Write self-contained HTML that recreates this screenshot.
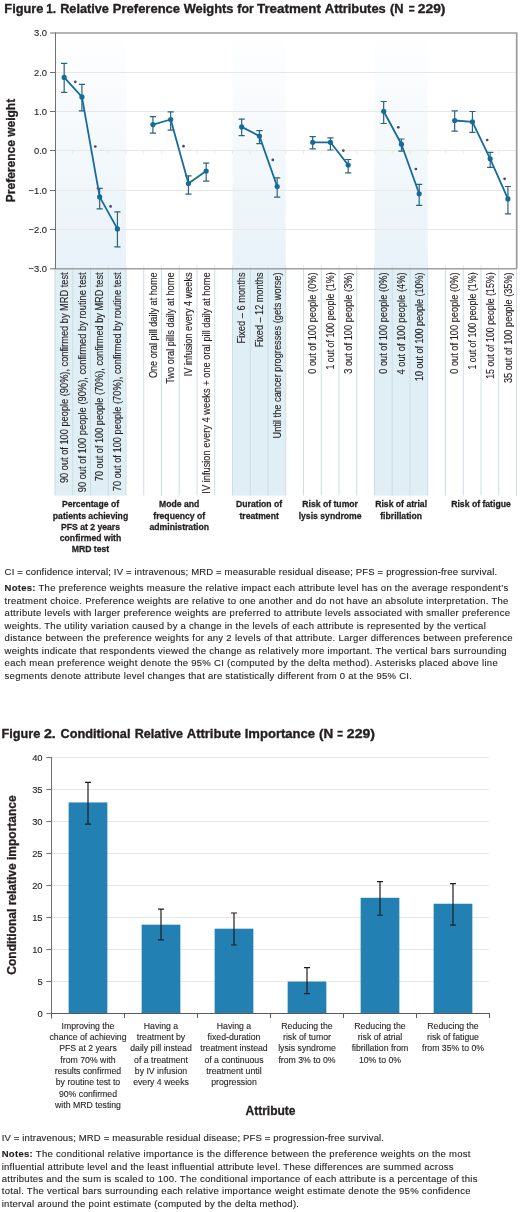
<!DOCTYPE html>
<html><head><meta charset="utf-8"><title>Figures</title>
<style>
html,body{margin:0;padding:0;background:#fff;}
body{width:520px;height:1212px;overflow:hidden;}
svg{display:block;font-family:"Liberation Sans", sans-serif;will-change:transform;}
svg text{fill:#231f20;stroke:#231f20;stroke-width:0.12px;} svg text[font-weight=bold]{stroke-width:0.3px;} svg text.ttl{stroke-width:0.35px;}
</style></head><body>
<svg width="520" height="1212" viewBox="0 0 520 1212">
<rect width="520" height="1212" fill="#fff"/>
<text x="4.37" y="12.80" font-size="12.5" textLength="38.98" lengthAdjust="spacingAndGlyphs" font-weight="bold" class="ttl">Figure</text>
<text x="46.29" y="12.80" font-size="12.5" textLength="9.82" lengthAdjust="spacingAndGlyphs" font-weight="bold" class="ttl">1.</text>
<text x="60.17" y="12.80" font-size="12.5" textLength="48.78" lengthAdjust="spacingAndGlyphs" font-weight="bold" class="ttl">Relative</text>
<text x="112.86" y="12.80" font-size="12.5" textLength="67.20" lengthAdjust="spacingAndGlyphs" font-weight="bold" class="ttl">Preference</text>
<text x="183.70" y="12.80" font-size="12.5" textLength="49.72" lengthAdjust="spacingAndGlyphs" font-weight="bold" class="ttl">Weights</text>
<text x="237.31" y="12.80" font-size="12.5" textLength="16.55" lengthAdjust="spacingAndGlyphs" font-weight="bold" class="ttl">for</text>
<text x="256.97" y="12.80" font-size="12.5" textLength="63.93" lengthAdjust="spacingAndGlyphs" font-weight="bold" class="ttl">Treatment</text>
<text x="324.88" y="12.80" font-size="12.5" textLength="60.87" lengthAdjust="spacingAndGlyphs" font-weight="bold" class="ttl">Attributes</text>
<text x="389.96" y="12.80" font-size="12.5" textLength="13.58" lengthAdjust="spacingAndGlyphs" font-weight="bold" class="ttl">(N</text>
<text x="408.80" y="12.80" font-size="12.5" textLength="5.90" lengthAdjust="spacingAndGlyphs" font-weight="bold" class="ttl">=</text>
<text x="417.82" y="12.80" font-size="12.5" textLength="27.63" lengthAdjust="spacingAndGlyphs" font-weight="bold" class="ttl">229)</text>
<defs><linearGradient id="band" x1="0" y1="0" x2="0" y2="1"><stop offset="0" stop-color="#ffffff"/><stop offset="0.12" stop-color="#fcfdfe"/><stop offset="1" stop-color="#e8f2f8"/></linearGradient></defs>
<rect x="55.00" y="32.90" width="71.00" height="236.10" fill="url(#band)"/>
<rect x="232.50" y="32.90" width="53.25" height="236.10" fill="url(#band)"/>
<rect x="374.50" y="32.90" width="53.25" height="236.10" fill="url(#band)"/>
<line x1="55.0" y1="72.50" x2="516.5" y2="72.50" stroke="#e8e8e8" stroke-width="1"/>
<line x1="55.0" y1="111.50" x2="516.5" y2="111.50" stroke="#e8e8e8" stroke-width="1"/>
<line x1="55.0" y1="150.50" x2="516.5" y2="150.50" stroke="#e8e8e8" stroke-width="1"/>
<line x1="55.0" y1="190.50" x2="516.5" y2="190.50" stroke="#e8e8e8" stroke-width="1"/>
<line x1="55.0" y1="229.50" x2="516.5" y2="229.50" stroke="#e8e8e8" stroke-width="1"/>
<path d="M55.00 150.95v3 M55.00 265.00v4 M72.75 150.95v3 M72.75 265.00v4 M90.50 150.95v3 M90.50 265.00v4 M108.25 150.95v3 M108.25 265.00v4 M126.00 150.95v3 M126.00 265.00v4 M143.75 150.95v3 M143.75 265.00v4 M161.50 150.95v3 M161.50 265.00v4 M179.25 150.95v3 M179.25 265.00v4 M197.00 150.95v3 M197.00 265.00v4 M214.75 150.95v3 M214.75 265.00v4 M232.50 150.95v3 M232.50 265.00v4 M250.25 150.95v3 M250.25 265.00v4 M268.00 150.95v3 M268.00 265.00v4 M285.75 150.95v3 M285.75 265.00v4 M303.50 150.95v3 M303.50 265.00v4 M321.25 150.95v3 M321.25 265.00v4 M339.00 150.95v3 M339.00 265.00v4 M356.75 150.95v3 M356.75 265.00v4 M374.50 150.95v3 M374.50 265.00v4 M392.25 150.95v3 M392.25 265.00v4 M410.00 150.95v3 M410.00 265.00v4 M427.75 150.95v3 M427.75 265.00v4 M445.50 150.95v3 M445.50 265.00v4 M463.25 150.95v3 M463.25 265.00v4 M481.00 150.95v3 M481.00 265.00v4 M498.75 150.95v3 M498.75 265.00v4 M516.50 150.95v3 M516.50 265.00v4" stroke="#e4e4e4" stroke-width="0.8" fill="none"/>
<rect x="55.00" y="269.00" width="17.75" height="226.50" fill="#e0eef5"/>
<rect x="72.75" y="269.00" width="17.75" height="226.50" fill="#e0eef5"/>
<rect x="90.50" y="269.00" width="17.75" height="226.50" fill="#e0eef5"/>
<rect x="108.25" y="269.00" width="17.75" height="226.50" fill="#e0eef5"/>
<line x1="55.00" y1="269.00" x2="55.00" y2="495.50" stroke="#cddde6" stroke-width="1"/>
<line x1="72.75" y1="269.00" x2="72.75" y2="495.50" stroke="#cddde6" stroke-width="1"/>
<line x1="90.50" y1="269.00" x2="90.50" y2="495.50" stroke="#cddde6" stroke-width="1"/>
<line x1="108.25" y1="269.00" x2="108.25" y2="495.50" stroke="#cddde6" stroke-width="1"/>
<line x1="126.00" y1="269.00" x2="126.00" y2="495.50" stroke="#cddde6" stroke-width="1"/>
<line x1="143.75" y1="269.00" x2="143.75" y2="495.50" stroke="#cddde6" stroke-width="1"/>
<line x1="161.50" y1="269.00" x2="161.50" y2="495.50" stroke="#cddde6" stroke-width="1"/>
<line x1="179.25" y1="269.00" x2="179.25" y2="495.50" stroke="#cddde6" stroke-width="1"/>
<line x1="197.00" y1="269.00" x2="197.00" y2="495.50" stroke="#cddde6" stroke-width="1"/>
<line x1="214.75" y1="269.00" x2="214.75" y2="495.50" stroke="#cddde6" stroke-width="1"/>
<rect x="232.50" y="269.00" width="17.75" height="226.50" fill="#e0eef5"/>
<rect x="250.25" y="269.00" width="17.75" height="226.50" fill="#e0eef5"/>
<rect x="268.00" y="269.00" width="17.75" height="226.50" fill="#e0eef5"/>
<line x1="232.50" y1="269.00" x2="232.50" y2="495.50" stroke="#cddde6" stroke-width="1"/>
<line x1="250.25" y1="269.00" x2="250.25" y2="495.50" stroke="#cddde6" stroke-width="1"/>
<line x1="268.00" y1="269.00" x2="268.00" y2="495.50" stroke="#cddde6" stroke-width="1"/>
<line x1="285.75" y1="269.00" x2="285.75" y2="495.50" stroke="#cddde6" stroke-width="1"/>
<line x1="303.50" y1="269.00" x2="303.50" y2="495.50" stroke="#cddde6" stroke-width="1"/>
<line x1="321.25" y1="269.00" x2="321.25" y2="495.50" stroke="#cddde6" stroke-width="1"/>
<line x1="339.00" y1="269.00" x2="339.00" y2="495.50" stroke="#cddde6" stroke-width="1"/>
<line x1="356.75" y1="269.00" x2="356.75" y2="495.50" stroke="#cddde6" stroke-width="1"/>
<rect x="374.50" y="269.00" width="17.75" height="226.50" fill="#e0eef5"/>
<rect x="392.25" y="269.00" width="17.75" height="226.50" fill="#e0eef5"/>
<rect x="410.00" y="269.00" width="17.75" height="226.50" fill="#e0eef5"/>
<line x1="374.50" y1="269.00" x2="374.50" y2="495.50" stroke="#cddde6" stroke-width="1"/>
<line x1="392.25" y1="269.00" x2="392.25" y2="495.50" stroke="#cddde6" stroke-width="1"/>
<line x1="410.00" y1="269.00" x2="410.00" y2="495.50" stroke="#cddde6" stroke-width="1"/>
<line x1="427.75" y1="269.00" x2="427.75" y2="495.50" stroke="#cddde6" stroke-width="1"/>
<line x1="445.50" y1="269.00" x2="445.50" y2="495.50" stroke="#cddde6" stroke-width="1"/>
<line x1="463.25" y1="269.00" x2="463.25" y2="495.50" stroke="#cddde6" stroke-width="1"/>
<line x1="481.00" y1="269.00" x2="481.00" y2="495.50" stroke="#cddde6" stroke-width="1"/>
<line x1="498.75" y1="269.00" x2="498.75" y2="495.50" stroke="#cddde6" stroke-width="1"/>
<line x1="516.50" y1="269.00" x2="516.50" y2="495.50" stroke="#cddde6" stroke-width="1"/>
<text transform="translate(67.78,272.4) rotate(-90)" text-anchor="end" font-size="10.0" textLength="210.70" lengthAdjust="spacingAndGlyphs">90 out of 100 people (90%), confirmed by MRD test</text>
<text transform="translate(85.53,272.4) rotate(-90)" text-anchor="end" font-size="10.0" textLength="219.90" lengthAdjust="spacingAndGlyphs">90 out of 100 people (90%), confirmed by routine test</text>
<text transform="translate(103.28,272.4) rotate(-90)" text-anchor="end" font-size="10.0" textLength="208.80" lengthAdjust="spacingAndGlyphs">70 out of 100 people (70%), confirmed by MRD test</text>
<text transform="translate(121.03,272.4) rotate(-90)" text-anchor="end" font-size="10.0" textLength="218.80" lengthAdjust="spacingAndGlyphs">70 out of 100 people (70%), confirmed by routine test</text>
<text transform="translate(156.53,272.4) rotate(-90)" text-anchor="end" font-size="10.0" textLength="105.70" lengthAdjust="spacingAndGlyphs">One oral pill daily at home</text>
<text transform="translate(174.28,272.4) rotate(-90)" text-anchor="end" font-size="10.0" textLength="111.40" lengthAdjust="spacingAndGlyphs">Two oral pills daily at home</text>
<text transform="translate(192.03,272.4) rotate(-90)" text-anchor="end" font-size="10.0" textLength="103.80" lengthAdjust="spacingAndGlyphs">IV infusion every 4 weeks</text>
<text transform="translate(209.78,272.4) rotate(-90)" text-anchor="end" font-size="10.0" textLength="221.30" lengthAdjust="spacingAndGlyphs">IV infusion every 4 weeks + one oral pill daily at home</text>
<text transform="translate(245.28,272.4) rotate(-90)" text-anchor="end" font-size="10.0" textLength="71.10" lengthAdjust="spacingAndGlyphs">Fixed – 6 months</text>
<text transform="translate(263.02,272.4) rotate(-90)" text-anchor="end" font-size="10.0" textLength="74.90" lengthAdjust="spacingAndGlyphs">Fixed – 12 months</text>
<text transform="translate(280.77,272.4) rotate(-90)" text-anchor="end" font-size="10.0" textLength="166.10" lengthAdjust="spacingAndGlyphs">Until the cancer progresses (gets worse)</text>
<text transform="translate(316.27,272.4) rotate(-90)" text-anchor="end" font-size="10.0" textLength="101.40" lengthAdjust="spacingAndGlyphs">0 out of 100 people (0%)</text>
<text transform="translate(334.02,272.4) rotate(-90)" text-anchor="end" font-size="10.0" textLength="97.20" lengthAdjust="spacingAndGlyphs">1 out of 100 people (1%)</text>
<text transform="translate(351.77,272.4) rotate(-90)" text-anchor="end" font-size="10.0" textLength="101.40" lengthAdjust="spacingAndGlyphs">3 out of 100 people (3%)</text>
<text transform="translate(387.27,272.4) rotate(-90)" text-anchor="end" font-size="10.0" textLength="101.40" lengthAdjust="spacingAndGlyphs">0 out of 100 people (0%)</text>
<text transform="translate(405.02,272.4) rotate(-90)" text-anchor="end" font-size="10.0" textLength="102.20" lengthAdjust="spacingAndGlyphs">4 out of 100 people (4%)</text>
<text transform="translate(422.77,272.4) rotate(-90)" text-anchor="end" font-size="10.0" textLength="108.60" lengthAdjust="spacingAndGlyphs">10 out of 100 people (10%)</text>
<text transform="translate(458.27,272.4) rotate(-90)" text-anchor="end" font-size="10.0" textLength="101.40" lengthAdjust="spacingAndGlyphs">0 out of 100 people (0%)</text>
<text transform="translate(476.02,272.4) rotate(-90)" text-anchor="end" font-size="10.0" textLength="97.20" lengthAdjust="spacingAndGlyphs">1 out of 100 people (1%)</text>
<text transform="translate(493.77,272.4) rotate(-90)" text-anchor="end" font-size="10.0" textLength="106.40" lengthAdjust="spacingAndGlyphs">15 out of 100 people (15%)</text>
<text transform="translate(511.52,272.4) rotate(-90)" text-anchor="end" font-size="10.0" textLength="110.70" lengthAdjust="spacingAndGlyphs">35 out of 100 people (35%)</text>
<text x="90.50" y="507.30" font-size="9.8" font-weight="bold" text-anchor="middle" textLength="57.13" lengthAdjust="spacingAndGlyphs">Percentage of</text>
<text x="90.50" y="518.50" font-size="9.8" font-weight="bold" text-anchor="middle" textLength="75.37" lengthAdjust="spacingAndGlyphs">patients achieving</text>
<text x="90.50" y="529.70" font-size="9.8" font-weight="bold" text-anchor="middle" textLength="59.07" lengthAdjust="spacingAndGlyphs">PFS at 2 years</text>
<text x="90.50" y="540.90" font-size="9.8" font-weight="bold" text-anchor="middle" textLength="61.44" lengthAdjust="spacingAndGlyphs">confirmed with</text>
<text x="90.50" y="552.10" font-size="9.8" font-weight="bold" text-anchor="middle" textLength="37.44" lengthAdjust="spacingAndGlyphs">MRD test</text>
<text x="179.25" y="507.30" font-size="9.8" font-weight="bold" text-anchor="middle" textLength="40.32" lengthAdjust="spacingAndGlyphs">Mode and</text>
<text x="179.25" y="518.50" font-size="9.8" font-weight="bold" text-anchor="middle" textLength="51.84" lengthAdjust="spacingAndGlyphs">frequency of</text>
<text x="179.25" y="529.70" font-size="9.8" font-weight="bold" text-anchor="middle" textLength="59.52" lengthAdjust="spacingAndGlyphs">administration</text>
<text x="259.12" y="507.30" font-size="9.8" font-weight="bold" text-anchor="middle" textLength="46.07" lengthAdjust="spacingAndGlyphs">Duration of</text>
<text x="259.12" y="518.50" font-size="9.8" font-weight="bold" text-anchor="middle" textLength="39.37" lengthAdjust="spacingAndGlyphs">treatment</text>
<text x="330.12" y="507.30" font-size="9.8" font-weight="bold" text-anchor="middle" textLength="55.68" lengthAdjust="spacingAndGlyphs">Risk of tumor</text>
<text x="330.12" y="518.50" font-size="9.8" font-weight="bold" text-anchor="middle" textLength="62.91" lengthAdjust="spacingAndGlyphs">lysis syndrome</text>
<text x="401.12" y="507.30" font-size="9.8" font-weight="bold" text-anchor="middle" textLength="51.85" lengthAdjust="spacingAndGlyphs">Risk of atrial</text>
<text x="401.12" y="518.50" font-size="9.8" font-weight="bold" text-anchor="middle" textLength="41.75" lengthAdjust="spacingAndGlyphs">fibrillation</text>
<text x="481.00" y="507.30" font-size="9.8" font-weight="bold" text-anchor="middle" textLength="59.52" lengthAdjust="spacingAndGlyphs">Risk of fatigue</text>
<path d="M55 33H516.7V268.8" stroke="#9c9c9c" stroke-width="1.7" fill="none"/>
<line x1="55" y1="268.7" x2="516.7" y2="268.7" stroke="#a0a0a0" stroke-width="1.6"/>
<line x1="55.5" y1="32.5" x2="55.5" y2="269" stroke="#707070" stroke-width="1"/>
<line x1="50" y1="33.00" x2="55.0" y2="33.00" stroke="#707070" stroke-width="1"/>
<text x="47.00" y="36.20" font-size="9.4" text-anchor="end">3.0</text>
<line x1="50" y1="72.50" x2="55.0" y2="72.50" stroke="#707070" stroke-width="1"/>
<text x="47.00" y="75.55" font-size="9.4" text-anchor="end">2.0</text>
<line x1="50" y1="111.50" x2="55.0" y2="111.50" stroke="#707070" stroke-width="1"/>
<text x="47.00" y="114.90" font-size="9.4" text-anchor="end">1.0</text>
<line x1="50" y1="150.50" x2="55.0" y2="150.50" stroke="#707070" stroke-width="1"/>
<text x="47.00" y="154.25" font-size="9.4" text-anchor="end">0.0</text>
<line x1="50" y1="190.50" x2="55.0" y2="190.50" stroke="#707070" stroke-width="1"/>
<text x="47.00" y="193.60" font-size="9.4" text-anchor="end">−1.0</text>
<line x1="50" y1="229.50" x2="55.0" y2="229.50" stroke="#707070" stroke-width="1"/>
<text x="47.00" y="232.95" font-size="9.4" text-anchor="end">−2.0</text>
<line x1="50" y1="268.80" x2="55.0" y2="268.80" stroke="#707070" stroke-width="1"/>
<text x="47.00" y="272.30" font-size="9.4" text-anchor="end">−3.0</text>
<text x="0.00" y="0.00" font-size="12" font-weight="bold" text-anchor="middle" transform="translate(14.9,150.5) rotate(-90)">Preference weight</text>
<path d="M64.17 63.40V92.40M61.07 63.40H67.27M61.07 92.40H67.27 M81.92 84.30V110.90M78.83 84.30H85.02M78.83 110.90H85.02 M99.67 188.30V208.80M96.58 188.30H102.77M96.58 208.80H102.77 M117.42 211.90V246.80M114.33 211.90H120.52M114.33 246.80H120.52" stroke="#2a6380" stroke-width="1.2" fill="none"/>
<polyline points="64.17,77.40 81.92,96.90 99.67,196.90 117.42,228.90" stroke="#176a9c" stroke-width="1.8" fill="none" stroke-linejoin="round"/>
<circle cx="64.17" cy="77.40" r="2.6" fill="#176a9c"/>
<circle cx="81.92" cy="96.90" r="2.6" fill="#176a9c"/>
<circle cx="99.67" cy="196.90" r="2.6" fill="#176a9c"/>
<circle cx="117.42" cy="228.90" r="2.6" fill="#176a9c"/>
<path d="M152.93 116.60V133.20M149.83 116.60H156.03M149.83 133.20H156.03 M170.68 111.80V130.20M167.58 111.80H173.78M167.58 130.20H173.78 M188.43 175.80V194.20M185.33 175.80H191.53M185.33 194.20H191.53 M206.18 163.20V181.10M203.08 163.20H209.28M203.08 181.10H209.28" stroke="#2a6380" stroke-width="1.2" fill="none"/>
<polyline points="152.93,124.60 170.68,119.50 188.43,183.50 206.18,171.10" stroke="#176a9c" stroke-width="1.8" fill="none" stroke-linejoin="round"/>
<circle cx="152.93" cy="124.60" r="2.6" fill="#176a9c"/>
<circle cx="170.68" cy="119.50" r="2.6" fill="#176a9c"/>
<circle cx="188.43" cy="183.50" r="2.6" fill="#176a9c"/>
<circle cx="206.18" cy="171.10" r="2.6" fill="#176a9c"/>
<path d="M241.68 119.20V135.70M238.58 119.20H244.78M238.58 135.70H244.78 M259.43 130.70V143.70M256.32 130.70H262.53M256.32 143.70H262.53 M277.18 177.80V197.20M274.07 177.80H280.28M274.07 197.20H280.28" stroke="#2a6380" stroke-width="1.2" fill="none"/>
<polyline points="241.68,126.90 259.43,136.10 277.18,186.50" stroke="#176a9c" stroke-width="1.8" fill="none" stroke-linejoin="round"/>
<circle cx="241.68" cy="126.90" r="2.6" fill="#176a9c"/>
<circle cx="259.43" cy="136.10" r="2.6" fill="#176a9c"/>
<circle cx="277.18" cy="186.50" r="2.6" fill="#176a9c"/>
<path d="M312.68 136.70V148.80M309.57 136.70H315.78M309.57 148.80H315.78 M330.43 137.90V150.00M327.32 137.90H333.53M327.32 150.00H333.53 M348.18 159.50V172.80M345.07 159.50H351.28M345.07 172.80H351.28" stroke="#2a6380" stroke-width="1.2" fill="none"/>
<polyline points="312.68,142.30 330.43,142.30 348.18,165.00" stroke="#176a9c" stroke-width="1.8" fill="none" stroke-linejoin="round"/>
<circle cx="312.68" cy="142.30" r="2.6" fill="#176a9c"/>
<circle cx="330.43" cy="142.30" r="2.6" fill="#176a9c"/>
<circle cx="348.18" cy="165.00" r="2.6" fill="#176a9c"/>
<path d="M383.68 101.50V123.50M380.57 101.50H386.78M380.57 123.50H386.78 M401.43 139.00V151.20M398.32 139.00H404.53M398.32 151.20H404.53 M419.18 184.40V205.40M416.07 184.40H422.28M416.07 205.40H422.28" stroke="#2a6380" stroke-width="1.2" fill="none"/>
<polyline points="383.68,111.30 401.43,144.20 419.18,193.80" stroke="#176a9c" stroke-width="1.8" fill="none" stroke-linejoin="round"/>
<circle cx="383.68" cy="111.30" r="2.6" fill="#176a9c"/>
<circle cx="401.43" cy="144.20" r="2.6" fill="#176a9c"/>
<circle cx="419.18" cy="193.80" r="2.6" fill="#176a9c"/>
<path d="M454.68 110.80V131.20M451.57 110.80H457.78M451.57 131.20H457.78 M472.43 111.50V132.30M469.32 111.50H475.53M469.32 132.30H475.53 M490.18 152.30V167.40M487.07 152.30H493.28M487.07 167.40H493.28 M507.93 186.50V213.80M504.82 186.50H511.03M504.82 213.80H511.03" stroke="#2a6380" stroke-width="1.2" fill="none"/>
<polyline points="454.68,120.50 472.43,121.80 490.18,158.80 507.93,198.90" stroke="#176a9c" stroke-width="1.8" fill="none" stroke-linejoin="round"/>
<circle cx="454.68" cy="120.50" r="2.6" fill="#176a9c"/>
<circle cx="472.43" cy="121.80" r="2.6" fill="#176a9c"/>
<circle cx="490.18" cy="158.80" r="2.6" fill="#176a9c"/>
<circle cx="507.93" cy="198.90" r="2.6" fill="#176a9c"/>
<circle cx="75.30" cy="81.80" r="1.35" fill="#3c4a6e"/>
<circle cx="95.30" cy="146.50" r="1.35" fill="#3c4a6e"/>
<circle cx="110.60" cy="206.40" r="1.35" fill="#3c4a6e"/>
<circle cx="183.50" cy="146.20" r="1.35" fill="#3c4a6e"/>
<circle cx="272.80" cy="159.90" r="1.35" fill="#3c4a6e"/>
<circle cx="343.30" cy="150.60" r="1.35" fill="#3c4a6e"/>
<circle cx="398.30" cy="127.30" r="1.35" fill="#3c4a6e"/>
<circle cx="415.90" cy="169.00" r="1.35" fill="#3c4a6e"/>
<circle cx="487.20" cy="140.00" r="1.35" fill="#3c4a6e"/>
<circle cx="504.60" cy="178.80" r="1.35" fill="#3c4a6e"/>
<text x="4.60" y="575.40" font-size="9.5" textLength="492.50" lengthAdjust="spacing">CI = confidence interval; IV = intravenous; MRD = measurable residual disease; PFS = progression-free survival.</text>
<text x="4.60" y="591.40" font-size="9.5" textLength="503.60" lengthAdjust="spacing"><tspan font-weight="bold">Notes:</tspan> The preference weights measure the relative impact each attribute level has on the average respondent’s</text>
<text x="4.60" y="603.86" font-size="9.5" textLength="503.80" lengthAdjust="spacing">treatment choice. Preference weights are relative to one another and do not have an absolute interpretation. The</text>
<text x="4.60" y="616.32" font-size="9.5" textLength="505.40" lengthAdjust="spacing">attribute levels with larger preference weights are preferred to attribute levels associated with smaller preference</text>
<text x="4.60" y="628.78" font-size="9.5" textLength="481.20" lengthAdjust="spacing">weights. The utility variation caused by a change in the levels of each attribute is represented by the vertical</text>
<text x="4.60" y="641.24" font-size="9.5" textLength="507.90" lengthAdjust="spacing">distance between the preference weights for any 2 levels of that attribute. Larger differences between preference</text>
<text x="4.60" y="653.70" font-size="9.5" textLength="501.90" lengthAdjust="spacing">weights indicate that respondents viewed the change as relatively more important. The vertical bars surrounding</text>
<text x="4.60" y="666.16" font-size="9.5" textLength="493.10" lengthAdjust="spacing">each mean preference weight denote the 95% CI (computed by the delta method). Asterisks placed above line</text>
<text x="4.60" y="678.62" font-size="9.5" textLength="407.20" lengthAdjust="spacing">segments denote attribute level changes that are statistically different from 0 at the 95% CI.</text>
<text x="1.48" y="738.40" font-size="12.5" textLength="38.78" lengthAdjust="spacingAndGlyphs" font-weight="bold" class="ttl">Figure</text>
<text x="43.90" y="738.40" font-size="12.5" textLength="11.88" lengthAdjust="spacingAndGlyphs" font-weight="bold" class="ttl">2.</text>
<text x="60.49" y="738.40" font-size="12.5" textLength="69.99" lengthAdjust="spacingAndGlyphs" font-weight="bold" class="ttl">Conditional</text>
<text x="134.78" y="738.40" font-size="12.5" textLength="48.16" lengthAdjust="spacingAndGlyphs" font-weight="bold" class="ttl">Relative</text>
<text x="186.78" y="738.40" font-size="12.5" textLength="54.09" lengthAdjust="spacingAndGlyphs" font-weight="bold" class="ttl">Attribute</text>
<text x="244.75" y="738.40" font-size="12.5" textLength="70.31" lengthAdjust="spacingAndGlyphs" font-weight="bold" class="ttl">Importance</text>
<text x="319.12" y="738.40" font-size="12.5" textLength="14.26" lengthAdjust="spacingAndGlyphs" font-weight="bold" class="ttl">(N</text>
<text x="337.20" y="738.40" font-size="12.5" textLength="5.78" lengthAdjust="spacingAndGlyphs" font-weight="bold" class="ttl">=</text>
<text x="346.81" y="738.40" font-size="12.5" textLength="28.25" lengthAdjust="spacingAndGlyphs" font-weight="bold" class="ttl">229)</text>
<line x1="51.5" y1="981.50" x2="489.5" y2="981.50" stroke="#e8e8e8" stroke-width="1"/>
<line x1="51.5" y1="949.50" x2="489.5" y2="949.50" stroke="#e8e8e8" stroke-width="1"/>
<line x1="51.5" y1="917.50" x2="489.5" y2="917.50" stroke="#e8e8e8" stroke-width="1"/>
<line x1="51.5" y1="885.50" x2="489.5" y2="885.50" stroke="#e8e8e8" stroke-width="1"/>
<line x1="51.5" y1="853.50" x2="489.5" y2="853.50" stroke="#e8e8e8" stroke-width="1"/>
<line x1="51.5" y1="821.50" x2="489.5" y2="821.50" stroke="#e8e8e8" stroke-width="1"/>
<line x1="51.5" y1="789.50" x2="489.5" y2="789.50" stroke="#e8e8e8" stroke-width="1"/>
<line x1="51.5" y1="757.50" x2="489.5" y2="757.50" stroke="#e8e8e8" stroke-width="1"/>
<line x1="46.3" y1="1013.50" x2="51.5" y2="1013.50" stroke="#707070" stroke-width="1"/>
<text x="42.60" y="1016.90" font-size="9.4" text-anchor="end">0</text>
<line x1="46.3" y1="981.50" x2="51.5" y2="981.50" stroke="#707070" stroke-width="1"/>
<text x="42.60" y="984.90" font-size="9.4" text-anchor="end">5</text>
<line x1="46.3" y1="949.50" x2="51.5" y2="949.50" stroke="#707070" stroke-width="1"/>
<text x="42.60" y="952.90" font-size="9.4" text-anchor="end">10</text>
<line x1="46.3" y1="917.50" x2="51.5" y2="917.50" stroke="#707070" stroke-width="1"/>
<text x="42.60" y="920.90" font-size="9.4" text-anchor="end">15</text>
<line x1="46.3" y1="885.50" x2="51.5" y2="885.50" stroke="#707070" stroke-width="1"/>
<text x="42.60" y="888.90" font-size="9.4" text-anchor="end">20</text>
<line x1="46.3" y1="853.50" x2="51.5" y2="853.50" stroke="#707070" stroke-width="1"/>
<text x="42.60" y="856.90" font-size="9.4" text-anchor="end">25</text>
<line x1="46.3" y1="821.50" x2="51.5" y2="821.50" stroke="#707070" stroke-width="1"/>
<text x="42.60" y="824.90" font-size="9.4" text-anchor="end">30</text>
<line x1="46.3" y1="789.50" x2="51.5" y2="789.50" stroke="#707070" stroke-width="1"/>
<text x="42.60" y="792.90" font-size="9.4" text-anchor="end">35</text>
<line x1="46.3" y1="757.50" x2="51.5" y2="757.50" stroke="#707070" stroke-width="1"/>
<text x="42.60" y="760.90" font-size="9.4" text-anchor="end">40</text>
<line x1="51.5" y1="757.00" x2="51.5" y2="1018.50" stroke="#707070" stroke-width="1"/>
<rect x="68.65" y="802.43" width="38.7" height="211.07" fill="#2280b3"/>
<rect x="141.65" y="924.67" width="38.7" height="88.83" fill="#2280b3"/>
<rect x="214.65" y="928.70" width="38.7" height="84.80" fill="#2280b3"/>
<rect x="287.65" y="981.56" width="38.7" height="31.94" fill="#2280b3"/>
<rect x="360.65" y="897.79" width="38.7" height="115.71" fill="#2280b3"/>
<rect x="433.65" y="903.74" width="38.7" height="109.76" fill="#2280b3"/>
<path d="M88.00 782.46V824.06M85.00 782.46H91.00M85.00 824.06H91.00" stroke="#1e1e24" stroke-width="1.2" fill="none"/>
<path d="M161.00 909.18V939.90M158.00 909.18H164.00M158.00 939.90H164.00" stroke="#1e1e24" stroke-width="1.2" fill="none"/>
<path d="M234.00 913.02V945.02M231.00 913.02H237.00M231.00 945.02H237.00" stroke="#1e1e24" stroke-width="1.2" fill="none"/>
<path d="M307.00 967.61V993.66M304.00 967.61H310.00M304.00 993.66H310.00" stroke="#1e1e24" stroke-width="1.2" fill="none"/>
<path d="M380.00 881.66V915.26M377.00 881.66H383.00M377.00 915.26H383.00" stroke="#1e1e24" stroke-width="1.2" fill="none"/>
<path d="M453.00 883.58V925.18M450.00 883.58H456.00M450.00 925.18H456.00" stroke="#1e1e24" stroke-width="1.2" fill="none"/>
<line x1="51.0" y1="1013.5" x2="490.0" y2="1013.5" stroke="#5a5a5a" stroke-width="1"/>
<path d="M51.50 1013.5v4.5 M124.50 1013.5v4.5 M197.50 1013.5v4.5 M270.50 1013.5v4.5 M343.50 1013.5v4.5 M416.50 1013.5v4.5 M489.50 1013.5v4.5" stroke="#5a5a5a" stroke-width="1" fill="none"/>
<text x="88.00" y="1028.80" font-size="9.8" text-anchor="middle" textLength="52.84" lengthAdjust="spacingAndGlyphs">Improving the</text>
<text x="88.00" y="1040.12" font-size="9.8" text-anchor="middle" textLength="77.09" lengthAdjust="spacingAndGlyphs">chance of achieving</text>
<text x="88.00" y="1051.44" font-size="9.8" text-anchor="middle" textLength="57.68" lengthAdjust="spacingAndGlyphs">PFS at 2 years</text>
<text x="88.00" y="1062.76" font-size="9.8" text-anchor="middle" textLength="55.26" lengthAdjust="spacingAndGlyphs">from 70% with</text>
<text x="88.00" y="1074.08" font-size="9.8" text-anchor="middle" textLength="66.40" lengthAdjust="spacingAndGlyphs">results confirmed</text>
<text x="88.00" y="1085.40" font-size="9.8" text-anchor="middle" textLength="64.48" lengthAdjust="spacingAndGlyphs">by routine test to</text>
<text x="88.00" y="1096.72" font-size="9.8" text-anchor="middle" textLength="58.17" lengthAdjust="spacingAndGlyphs">90% confirmed</text>
<text x="88.00" y="1108.04" font-size="9.8" text-anchor="middle" textLength="65.92" lengthAdjust="spacingAndGlyphs">with MRD testing</text>
<text x="161.00" y="1028.80" font-size="9.8" text-anchor="middle" textLength="34.42" lengthAdjust="spacingAndGlyphs">Having a</text>
<text x="161.00" y="1040.12" font-size="9.8" text-anchor="middle" textLength="48.47" lengthAdjust="spacingAndGlyphs">treatment by</text>
<text x="161.00" y="1051.44" font-size="9.8" text-anchor="middle" textLength="61.57" lengthAdjust="spacingAndGlyphs">daily pill instead</text>
<text x="161.00" y="1062.76" font-size="9.8" text-anchor="middle" textLength="53.81" lengthAdjust="spacingAndGlyphs">of a treatment</text>
<text x="161.00" y="1074.08" font-size="9.8" text-anchor="middle" textLength="52.36" lengthAdjust="spacingAndGlyphs">by IV infusion</text>
<text x="161.00" y="1085.40" font-size="9.8" text-anchor="middle" textLength="55.74" lengthAdjust="spacingAndGlyphs">every 4 weeks</text>
<text x="234.00" y="1028.80" font-size="9.8" text-anchor="middle" textLength="34.42" lengthAdjust="spacingAndGlyphs">Having a</text>
<text x="234.00" y="1040.12" font-size="9.8" text-anchor="middle" textLength="52.84" lengthAdjust="spacingAndGlyphs">fixed-duration</text>
<text x="234.00" y="1051.44" font-size="9.8" text-anchor="middle" textLength="67.39" lengthAdjust="spacingAndGlyphs">treatment instead</text>
<text x="234.00" y="1062.76" font-size="9.8" text-anchor="middle" textLength="59.15" lengthAdjust="spacingAndGlyphs">of a continuous</text>
<text x="234.00" y="1074.08" font-size="9.8" text-anchor="middle" textLength="55.26" lengthAdjust="spacingAndGlyphs">treatment until</text>
<text x="234.00" y="1085.40" font-size="9.8" text-anchor="middle" textLength="45.57" lengthAdjust="spacingAndGlyphs">progression</text>
<text x="307.00" y="1028.80" font-size="9.8" text-anchor="middle" textLength="51.40" lengthAdjust="spacingAndGlyphs">Reducing the</text>
<text x="307.00" y="1040.12" font-size="9.8" text-anchor="middle" textLength="47.98" lengthAdjust="spacingAndGlyphs">risk of tumor</text>
<text x="307.00" y="1051.44" font-size="9.8" text-anchor="middle" textLength="57.67" lengthAdjust="spacingAndGlyphs">lysis syndrome</text>
<text x="307.00" y="1062.76" font-size="9.8" text-anchor="middle" textLength="57.20" lengthAdjust="spacingAndGlyphs">from 3% to 0%</text>
<text x="380.00" y="1028.80" font-size="9.8" text-anchor="middle" textLength="51.40" lengthAdjust="spacingAndGlyphs">Reducing the</text>
<text x="380.00" y="1040.12" font-size="9.8" text-anchor="middle" textLength="44.59" lengthAdjust="spacingAndGlyphs">risk of atrial</text>
<text x="380.00" y="1051.44" font-size="9.8" text-anchor="middle" textLength="56.71" lengthAdjust="spacingAndGlyphs">fibrillation from</text>
<text x="380.00" y="1062.76" font-size="9.8" text-anchor="middle" textLength="42.18" lengthAdjust="spacingAndGlyphs">10% to 0%</text>
<text x="453.00" y="1028.80" font-size="9.8" text-anchor="middle" textLength="51.40" lengthAdjust="spacingAndGlyphs">Reducing the</text>
<text x="453.00" y="1040.12" font-size="9.8" text-anchor="middle" textLength="51.87" lengthAdjust="spacingAndGlyphs">risk of fatigue</text>
<text x="453.00" y="1051.44" font-size="9.8" text-anchor="middle" textLength="62.05" lengthAdjust="spacingAndGlyphs">from 35% to 0%</text>
<text x="270.50" y="1114.50" font-size="12" font-weight="bold" text-anchor="middle">Attribute</text>
<text x="0.00" y="0.00" font-size="12" font-weight="bold" text-anchor="middle" transform="translate(16,885) rotate(-90)">Conditional relative importance</text>
<text x="1.70" y="1141.40" font-size="9.5" textLength="382.30" lengthAdjust="spacing">IV = intravenous; MRD = measurable residual disease; PFS = progression-free survival.</text>
<text x="1.70" y="1157.10" font-size="9.5" textLength="468.80" lengthAdjust="spacing"><tspan font-weight="bold">Notes:</tspan> The conditional relative importance is the difference between the preference weights on the most</text>
<text x="1.70" y="1169.52" font-size="9.5" textLength="451.80" lengthAdjust="spacing">influential attribute level and the least influential attribute level. These differences are summed across</text>
<text x="1.70" y="1181.94" font-size="9.5" textLength="475.70" lengthAdjust="spacing">attributes and the sum is scaled to 100. The conditional importance of each attribute is a percentage of this</text>
<text x="1.70" y="1194.36" font-size="9.5" textLength="468.80" lengthAdjust="spacing">total. The vertical bars surrounding each relative importance weight estimate denote the 95% confidence</text>
<text x="1.70" y="1206.78" font-size="9.5" textLength="297.30" lengthAdjust="spacing">interval around the point estimate (computed by the delta method).</text>
</svg>
</body></html>
